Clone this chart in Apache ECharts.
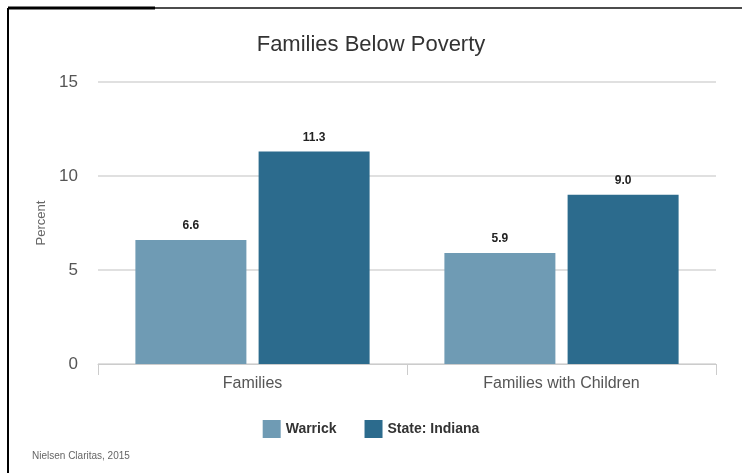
<!DOCTYPE html>
<html><head><meta charset="utf-8">
<script src="https://cdn.jsdelivr.net/npm/echarts@6/dist/echarts.min.js"></script>
<style>html,body{margin:0;padding:0;background:#fff}#c{width:742px;height:473px}</style>
</head><body><div id="c"></div>
<script>
const categories = ['Families', 'Families with Children'];
const warrick = [6.6, 5.9];
const indiana = [11.3, 9.0];
const seriesNames = ['Warrick', 'State: Indiana'];
const yTicks = [0, 5, 10, 15];

const chart = echarts.init(document.getElementById('c'));
const labelStyle = {show: true, position: 'top', distance: 8, fontFamily: 'Liberation Sans, Arial, sans-serif', fontWeight: 'bold', fontSize: 12, color: '#222', formatter: p => p.value.toFixed(1)};
chart.setOption({
  animation: false,
  title: {text: 'Families Below Poverty', left: 'center', top: 29, textStyle: {fontFamily: 'Liberation Sans, Arial, sans-serif', fontWeight: 'normal', fontSize: 22, color: '#333'}},
  graphic: [
    {type: 'line', shape: {x1: 8, y1: 8, x2: 8, y2: 473}, style: {stroke: '#000', lineWidth: 2}},
    {type: 'line', shape: {x1: 8, y1: 8, x2: 742, y2: 8}, style: {stroke: '#111', lineWidth: 1.5}},
    {type: 'line', shape: {x1: 8, y1: 8, x2: 155, y2: 8}, style: {stroke: '#000', lineWidth: 3}},
    {type: 'text', left: 32, top: 451, style: {text: 'Nielsen Claritas, 2015', fontFamily: 'Liberation Sans, Arial, sans-serif', fontSize: 10, fill: '#666'}}
  ],
  legend: {bottom: 30, left: 'center', itemWidth: 18, itemHeight: 18, itemGap: 28, icon: 'rect',
    textStyle: {fontFamily: 'Liberation Sans, Arial, sans-serif', fontWeight: 'bold', fontSize: 14, color: '#333'}},
  grid: {left: 98, right: 26, top: 82, bottom: 109},
  xAxis: {type: 'category', data: categories,
    axisLine: {lineStyle: {color: '#ccc'}},
    axisTick: {show: true, length: 11, lineStyle: {color: '#ccc'}},
    axisLabel: {margin: 12, fontFamily: 'Liberation Sans, Arial, sans-serif', fontSize: 16, color: '#555'}},
  yAxis: {type: 'value', min: yTicks[0], max: yTicks[yTicks.length - 1], interval: 5,
    name: 'Percent', nameLocation: 'middle', nameGap: 50, nameRotate: 90,
    nameTextStyle: {fontFamily: 'Liberation Sans, Arial, sans-serif', fontSize: 13, color: '#666'},
    axisLine: {show: false}, axisTick: {show: false},
    splitLine: {lineStyle: {color: '#e0e0e0', width: 2}},
    axisLabel: {margin: 20, fontFamily: 'Liberation Sans, Arial, sans-serif', fontSize: 17, color: '#555'}},
  series: [
    {name: seriesNames[0], type: 'bar', data: warrick, barWidth: 111, barGap: '11%', itemStyle: {color: '#6f9bb4'}, label: labelStyle},
    {name: seriesNames[1], type: 'bar', data: indiana, barWidth: 111, barGap: '11%', itemStyle: {color: '#2c6b8d'}, label: labelStyle}
  ]
});
</script></body></html>
